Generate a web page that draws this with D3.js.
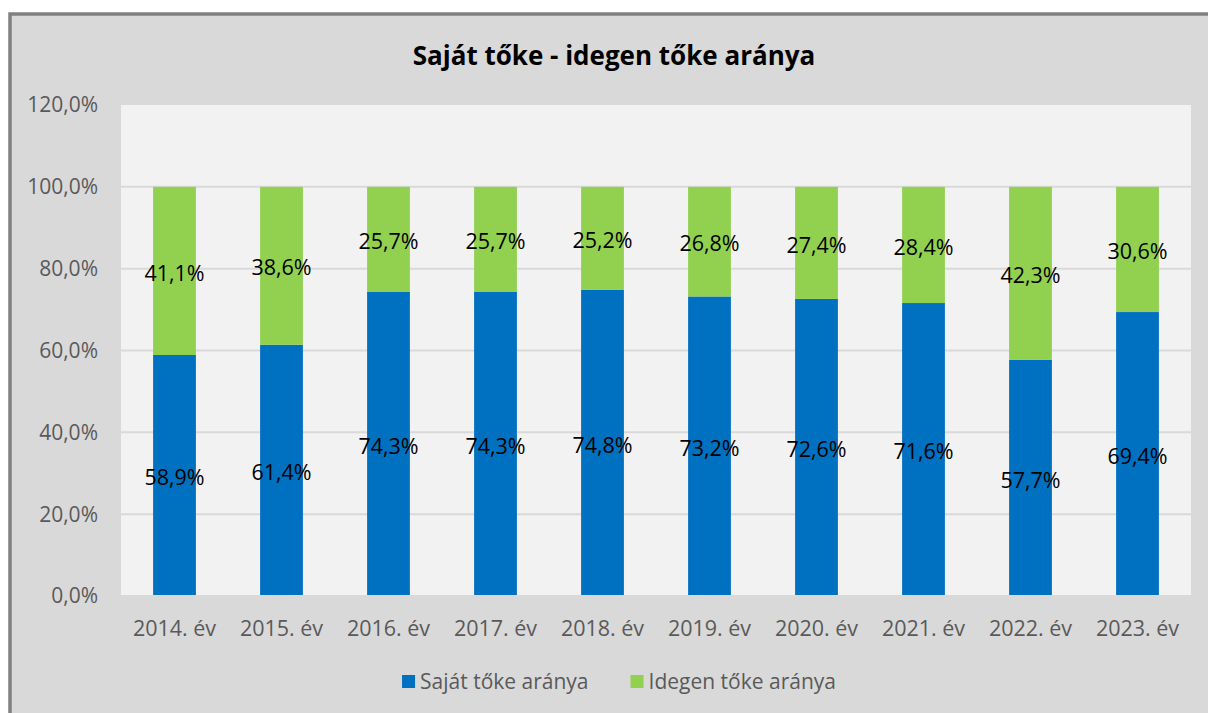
<!DOCTYPE html>
<html>
<head>
<meta charset="utf-8">
<script src="https://cdn.jsdelivr.net/npm/d3@7"></script>
<style>
  html, body { margin: 0; padding: 0; background: #ffffff; }
  svg { display: block; }
  text { font-family: "Open Sans", Lato, sans-serif; }
</style>
</head>
<body>
<div id="chart"></div>
<script>
const years = ["2014. év", "2015. év", "2016. év", "2017. év", "2018. év", "2019. év", "2020. év", "2021. év", "2022. év", "2023. év"];
const sajatToke = [58.9, 61.4, 74.3, 74.3, 74.8, 73.2, 72.6, 71.6, 57.7, 69.4];
const idegenToke = [41.1, 38.6, 25.7, 25.7, 25.2, 26.8, 27.4, 28.4, 42.3, 30.6];
const seriesNames = ["Saját tőke aránya", "Idegen tőke aránya"];
const seriesColors = ["#0070c0", "#92d050"];
const yTicks = [0, 20, 40, 60, 80, 100, 120];
const chartTitle = "Saját tőke - idegen tőke aránya";

const W = 1208, H = 713;
const plot = { left: 121, right: 1191, top: 105, bottom: 596 };

const svg = d3.select("#chart").append("svg")
    .attr("width", W)
    .attr("height", H);

// outer chart frame
svg.append("rect")
    .attr("x", 10).attr("y", 14)
    .attr("width", W + 20).attr("height", H + 20)
    .attr("fill", "#d9d9d9")
    .attr("stroke", "#808080")
    .attr("stroke-width", 3.5);

svg.append("text")
    .attr("x", 614).attr("y", 65)
    .attr("text-anchor", "middle")
    .attr("font-size", 26)
    .attr("font-weight", "bold")
    .attr("fill", "#000")
    .text(chartTitle);

const x = d3.scaleBand()
    .domain(years)
    .range([plot.left, plot.right])
    .paddingInner(0.6)
    .paddingOuter(0.3);

const y = d3.scaleLinear()
    .domain([0, 120])
    .range([plot.bottom, plot.top]);

svg.append("rect")
    .attr("x", plot.left).attr("y", plot.top)
    .attr("width", plot.right - plot.left)
    .attr("height", plot.bottom - plot.top)
    .attr("fill", "#f2f2f2");

// gridlines
svg.append("g").selectAll("line")
    .data(yTicks.filter(t => t > 0 && t < 120))
    .enter().append("line")
    .attr("x1", plot.left).attr("x2", plot.right)
    .attr("y1", d => y(d)).attr("y2", d => y(d))
    .attr("stroke", "#d9d9d9")
    .attr("stroke-width", 2);

const fmt = v => v.toFixed(1).replace(".", ",") + "%";

const rows = years.map((yr, i) => ({ year: yr, s0: sajatToke[i], s1: idegenToke[i] }));
const stack = d3.stack().keys(["s0", "s1"])(rows);

const layers = svg.append("g").selectAll("g.layer")
    .data(stack)
    .enter().append("g")
    .attr("class", "layer")
    .attr("fill", (d, i) => seriesColors[i]);

layers.selectAll("rect")
    .data(d => d)
    .enter().append("rect")
    .attr("x", d => x(d.data.year))
    .attr("width", x.bandwidth())
    .attr("y", d => y(d[1]))
    .attr("height", d => y(d[0]) - y(d[1]));

// baseline
svg.append("line")
    .attr("x1", plot.left).attr("x2", plot.right)
    .attr("y1", y(0)).attr("y2", y(0))
    .attr("stroke", "#d9d9d9")
    .attr("stroke-width", 2);

layers.selectAll("text")
    .data(d => d)
    .enter().append("text")
    .attr("x", d => x(d.data.year) + x.bandwidth() / 2)
    .attr("y", d => y((d[0] + d[1]) / 2))
    .attr("dy", "0.45em")
    .attr("text-anchor", "middle")
    .attr("font-size", 21.5)
    .attr("fill", "#000")
    .text(d => fmt(d[1] - d[0]));

// y axis labels
svg.append("g").selectAll("text")
    .data(yTicks)
    .enter().append("text")
    .attr("x", 98)
    .attr("y", d => y(d))
    .attr("dy", "0.35em")
    .attr("text-anchor", "end")
    .attr("font-size", 21)
    .attr("fill", "#595959")
    .text(d => d.toFixed(1).replace(".", ",") + "%");

// x axis labels
svg.append("g").selectAll("text")
    .data(years)
    .enter().append("text")
    .attr("x", d => x(d) + x.bandwidth() / 2)
    .attr("y", 628)
    .attr("dy", "0.35em")
    .attr("text-anchor", "middle")
    .attr("font-size", 21.5)
    .attr("fill", "#595959")
    .text(d => d);

// legend
const legend = svg.append("g");
let lx = 0;
seriesNames.forEach((name, i) => {
    const g = legend.append("g");
    g.append("rect")
        .attr("x", 0).attr("y", -6)
        .attr("width", 13).attr("height", 13)
        .attr("fill", seriesColors[i]);
    const t = g.append("text")
        .attr("x", 18).attr("y", 0)
        .attr("dy", "0.4em")
        .attr("font-size", 21)
        .attr("fill", "#595959")
        .text(name);
    const w = 18 + t.node().getComputedTextLength();
    g.attr("transform", "translate(" + lx + ",0)");
    lx += w + 42;
});
const legendWidth = lx - 42;
legend.attr("transform", "translate(" + (619 - legendWidth / 2) + ",681)");
</script>
</body>
</html>
